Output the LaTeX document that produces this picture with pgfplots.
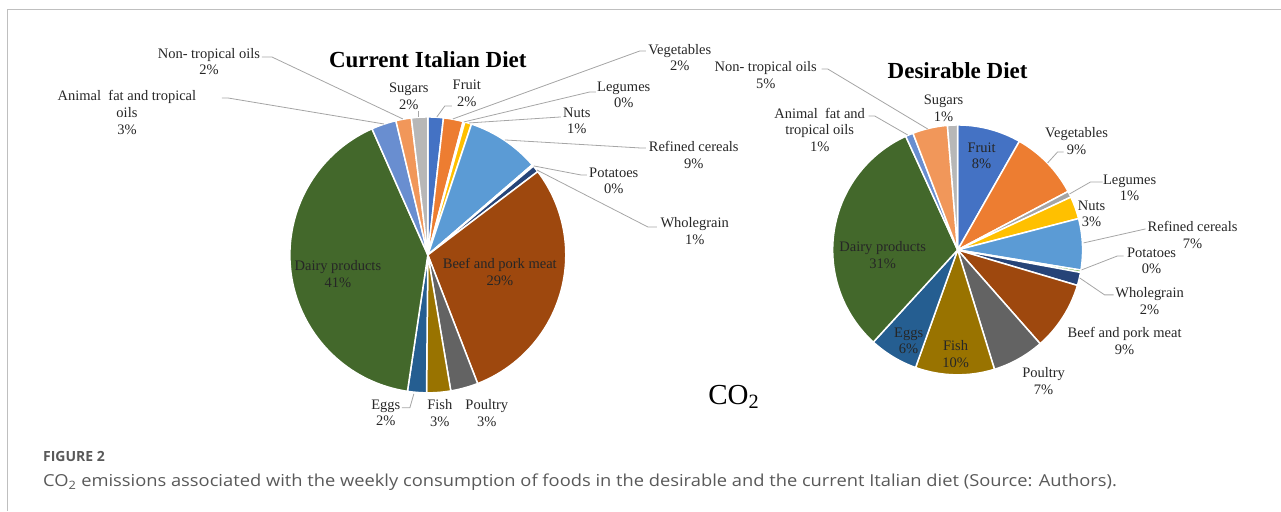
\documentclass[border=0pt]{standalone}
\usepackage{pgfplots}
\pgfplotsset{compat=1.18}
\usepackage{pgfplotstable}
\usepackage{graphicx}
\usepackage{fontspec}
\setmainfont{Liberation Serif}
\newfontfamily\capfont{Open Sans}
% Excel palette, one colour per food group (same order in both pies)
\definecolor{fc0}{HTML}{4472C4}% Fruit
\definecolor{fc1}{HTML}{ED7D31}% Vegetables
\definecolor{fc2}{HTML}{A5A5A5}% Legumes
\definecolor{fc3}{HTML}{FFC000}% Nuts
\definecolor{fc4}{HTML}{5B9BD5}% Refined cereals
\definecolor{fc5}{HTML}{70AD47}% Potatoes
\definecolor{fc6}{HTML}{264478}% Wholegrain
\definecolor{fc7}{HTML}{9E480E}% Beef and pork meat
\definecolor{fc8}{HTML}{636363}% Poultry
\definecolor{fc9}{HTML}{997300}% Fish
\definecolor{fc10}{HTML}{255E91}% Eggs
\definecolor{fc11}{HTML}{43682B}% Dairy products
\definecolor{fc12}{HTML}{698ED0}% Animal fat and tropical oils
\definecolor{fc13}{HTML}{F1975A}% Non-tropical oils
\definecolor{fc14}{HTML}{B7B7B7}% Sugars
\definecolor{leader}{HTML}{A6A6A6}
\definecolor{labtext}{HTML}{262626}
\definecolor{capgray}{HTML}{595959}
\definecolor{framegray}{HTML}{BFBFBF}
% Current Italian diet (share of CO2, %)
\pgfplotstableread{
food value
Fruit 1.8
Vegetables 2.3
Legumes 0.2
Nuts 0.8
Refined 8.5
Potatoes 0.2
Wholegrain 0.8
Beef 29.3
Poultry 3.2
Fish 2.8
Eggs 2.2
Dairy 40.8
AnimalFat 2.9
NonTropical 1.8
Sugars 1.9
}\curdiet
% Desirable diet (share of CO2, %)
\pgfplotstableread{
food value
Fruit 8.2
Vegetables 9.0
Legumes 0.8
Nuts 2.9
Refined 6.6
Potatoes 0.3
Wholegrain 1.7
Beef 8.9
Poultry 6.7
Fish 10.2
Eggs 6.3
Dairy 31.3
AnimalFat 1.0
NonTropical 4.5
Sugars 1.3
}\desdiet
\newcommand\preppie[2]{%
  \pgfplotstablecreatecol[create col/expr accum={\pgfmathaccuma + \thisrow{value}}{0}]{cum}{#1}%
  \pgfplotstablegetrowsof{#1}\pgfmathtruncatemacro\lastrow{\pgfplotsretval-1}%
  \pgfplotstablegetelem{\lastrow}{cum}\of{#1}\let\tot\pgfplotsretval
  \foreach \i in {0,...,\lastrow}{%
    \pgfplotstablegetelem{\i}{cum}\of{#1}\pgfmathsetmacro\e{100*\pgfplotsretval/\tot}%
    \pgfplotstablegetelem{\i}{value}\of{#1}\pgfmathsetmacro\s{\e-100*\pgfplotsretval/\tot}%
    \expandafter\xdef\csname #2s\i\endcsname{\s}%
    \expandafter\xdef\csname #2e\i\endcsname{\e}%
  }%
}
\preppie{\curdiet}{L}
\preppie{\desdiet}{R}
\tikzset{lab/.style={font=\fontsize{14.5}{16.7}\selectfont, text=labtext, align=center, inner sep=0pt},
  ld/.style={draw=leader, line width=0.8pt}}
\begin{document}
\begin{tikzpicture}
\begin{axis}[scale only axis, width=1281pt, height=511pt,
  xmin=0, xmax=1281, ymin=0, ymax=511, y dir=reverse,
  hide axis, clip=false]
\path (axis cs:0,0) rectangle (axis cs:1281,511);
% frame
\draw[framegray, line width=1pt] (axis cs:8,511) -- (axis cs:8,10) -- (axis cs:1281,10);
% left pie
\pgfplotsinvokeforeach{0,...,14}{
  \fill[fill=fc#1, draw=white, line width=1.5pt, line join=round] (axis cs:428,255) -- ++({90-3.6*\csname Ls#1\endcsname}:138pt)
    arc[start angle={90-3.6*\csname Ls#1\endcsname}, end angle={90-3.6*\csname Le#1\endcsname}, radius=138pt] -- cycle;
}
% right pie
\pgfplotsinvokeforeach{0,...,14}{
  \fill[fill=fc#1, draw=white, line width=1.5pt, line join=round] (axis cs:958,250) -- ++({90-3.6*\csname Rs#1\endcsname}:125pt)
    arc[start angle={90-3.6*\csname Rs#1\endcsname}, end angle={90-3.6*\csname Re#1\endcsname}, radius=125pt] -- cycle;
}
% titles
\node[font=\fontsize{23}{25}\selectfont\bfseries, text=black] at (axis cs:428,60) {Current Italian Diet};
\node[font=\fontsize{23}{25}\selectfont\bfseries, text=black] at (axis cs:958,71) {Desirable Diet};
\node[font=\fontsize{29}{32}\selectfont, text=black] at (axis cs:734,397) {CO\textsubscript{2}};
% left leaders
\draw[ld] (axis cs:262,57) -- (axis cs:272,57) -- (axis cs:403,119);
\draw[ld] (axis cs:222,98) -- (axis cs:228,98) -- (axis cs:384,124);
\draw[ld] (axis cs:419,111) -- (axis cs:419,117);
\draw[ld] (axis cs:452,106) -- (axis cs:445,106) -- (axis cs:437,117);
\draw[ld] (axis cs:646,51) -- (axis cs:640,51) -- (axis cs:453,119);
\draw[ld] (axis cs:596,92) -- (axis cs:590,92) -- (axis cs:464,122);
\draw[ld] (axis cs:561,117) -- (axis cs:469,123);
\draw[ld] (axis cs:505,140) -- (axis cs:640,148) -- (axis cs:646,148);
\draw[ld] (axis cs:534,166) -- (axis cs:581,175) -- (axis cs:587,175);
\draw[ld] (axis cs:537,170) -- (axis cs:648,227) -- (axis cs:657,227);
\draw[ld] (axis cs:402,408) -- (axis cs:410,408) -- (axis cs:414,394);
% right leaders
\draw[ld] (axis cs:822,69) -- (axis cs:828,69) -- (axis cs:928,129);
\draw[ld] (axis cs:869,116) -- (axis cs:875,116) -- (axis cs:908,135);
\draw[ld] (axis cs:1064,152) -- (axis cs:1058,152) -- (axis cs:1048,163);
\draw[ld] (axis cs:1103,182) -- (axis cs:1091,182) -- (axis cs:1070,194);
\draw[ld] (axis cs:1146,229) -- (axis cs:1084,243);
\draw[ld] (axis cs:1124,256) -- (axis cs:1118,256) -- (axis cs:1082,270);
\draw[ld] (axis cs:1114,295) -- (axis cs:1105,295) -- (axis cs:1080,278);
% left labels
\node[lab] at (axis cs:209,61.5) {Non- tropical oils\\2\%};
\node[lab] at (axis cs:127,112.5) {Animal\ \ fat and tropical\\oils\\3\%};
\node[lab] at (axis cs:409,96) {Sugars\\2\%};
\node[lab] at (axis cs:467,93) {Fruit\\2\%};
\node[lab] at (axis cs:680,57.5) {Vegetables\\2\%};
\node[lab] at (axis cs:624,95) {Legumes\\0\%};
\node[lab] at (axis cs:577,121) {Nuts\\1\%};
\node[lab] at (axis cs:694,155) {Refined cereals\\9\%};
\node[lab] at (axis cs:614,181) {Potatoes\\0\%};
\node[lab] at (axis cs:695,231) {Wholegrain\\1\%};
\node[lab] at (axis cs:500,272) {Beef and pork meat\\29\%};
\node[lab] at (axis cs:338,274) {Dairy products\\41\%};
\node[lab] at (axis cs:386,413) {Eggs\\2\%};
\node[lab] at (axis cs:440,413) {Fish\\3\%};
\node[lab] at (axis cs:487,413) {Poultry\\3\%};
% right labels
\node[lab] at (axis cs:766,75) {Non- tropical oils\\5\%};
\node[lab] at (axis cs:820,130) {Animal\ \ fat and\\tropical oils\\1\%};
\node[lab] at (axis cs:944,108) {Sugars\\1\%};
\node[lab] at (axis cs:982,156) {Fruit\\8\%};
\node[lab] at (axis cs:1077,141) {Vegetables\\9\%};
\node[lab] at (axis cs:1130,188) {Legumes\\1\%};
\node[lab] at (axis cs:1092,214) {Nuts\\3\%};
\node[lab] at (axis cs:1193,235) {Refined cereals\\7\%};
\node[lab] at (axis cs:1152,261) {Potatoes\\0\%};
\node[lab] at (axis cs:1150,301) {Wholegrain\\2\%};
\node[lab] at (axis cs:1125,341) {Beef and pork meat\\9\%};
\node[lab] at (axis cs:1044,381) {Poultry\\7\%};
\node[lab] at (axis cs:956,354) {Fish\\10\%};
\node[lab] at (axis cs:909,341) {Eggs\\6\%};
\node[lab] at (axis cs:883,255) {Dairy products\\31\%};
% caption
\node[anchor=base west, inner sep=0pt, font=\capfont\bfseries\fontsize{14}{16}\selectfont, text=capgray] at (axis cs:43,462) {FIGURE 2};
\node[anchor=base west, inner sep=0pt, font=\capfont\fontsize{16.5}{19}\selectfont, text=capgray] at (axis cs:43,487) {\scalebox{1.11}[1]{CO\textsubscript{2} emissions associated with the weekly consumption of foods in the desirable and the current Italian diet (Source: Authors).}};
\end{axis}
\end{tikzpicture}
\end{document}
